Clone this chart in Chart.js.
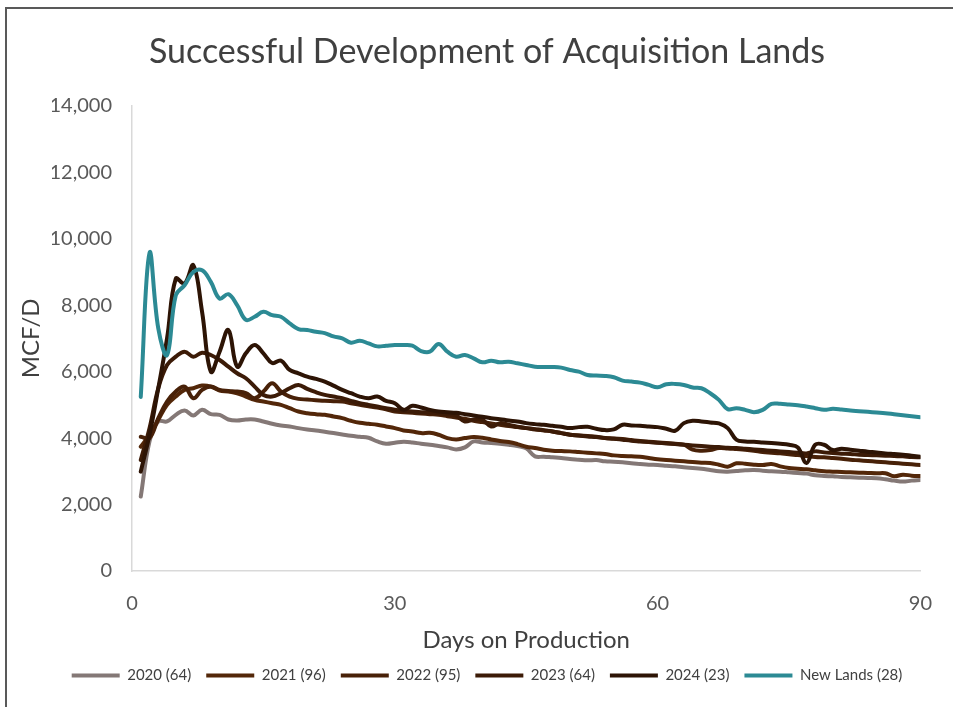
<!DOCTYPE html>
<html>
<head>
<meta charset="utf-8">
<script src="https://cdn.jsdelivr.net/npm/chart.js@4"></script>
<style>
  body { margin: 0; background: #fff; }
  #wrap { position: relative; width: 953px; height: 707px; overflow: hidden; }
  #frame { position: absolute; left: 5px; top: 7px; width: 960px; height: 720px;
           border-top: 2px solid #595959; border-left: 2px solid #595959; pointer-events: none; }
</style>
</head>
<body>
<div id="wrap">
  <canvas id="chart" width="953" height="707"></canvas>
  <div id="frame"></div>
</div>
<script>
// days on production (x categories)
const days = [1,2,3,4,5,6,7,8,9,10,11,12,13,14,15,16,17,18,19,20,21,22,23,24,25,26,27,28,29,30,
  31,32,33,34,35,36,37,38,39,40,41,42,43,44,45,46,47,48,49,50,51,52,53,54,55,56,57,58,59,60,
  61,62,63,64,65,66,67,68,69,70,71,72,73,74,75,76,77,78,79,80,81,82,83,84,85,86,87,88,89,90];

const xTicks = [0, 30, 60, 90];
const yTicks = [0, 2000, 4000, 6000, 8000, 10000, 12000, 14000];

// MCF/D
const y2020 = [2240,3900,4500,4500,4700,4830,4680,4850,4720,4700,4560,4530,4560,4560,4500,4430,4380,4350,4300,4260,
  4230,4190,4150,4110,4070,4040,4010,3900,3830,3860,3890,3870,3830,3800,3760,3720,3660,3720,3900,3870,
  3850,3830,3800,3760,3690,3450,3440,3420,3400,3370,3350,3330,3340,3300,3290,3270,3240,3220,3200,3190,
  3170,3150,3120,3100,3080,3040,3000,2990,3010,3030,3040,3020,3000,2990,2970,2950,2930,2880,2860,2850,
  2830,2820,2810,2800,2790,2760,2720,2690,2720,2740];

const y2021 = [3740,4100,4550,5000,5250,5450,5500,5580,5550,5430,5400,5350,5250,5150,5100,5050,5000,4900,4800,4750,
  4720,4700,4650,4600,4520,4460,4430,4400,4350,4300,4230,4200,4150,4160,4100,4000,3960,4000,4030,4010,
  3960,3910,3880,3820,3740,3700,3650,3620,3610,3600,3580,3560,3540,3520,3480,3460,3450,3440,3400,3360,
  3340,3320,3300,3280,3260,3250,3200,3140,3240,3230,3200,3190,3220,3150,3100,3080,3060,3030,3000,2990,
  2980,2970,2960,2950,2940,2940,2850,2900,2870,2860];

const y2022 = [4040,4000,4600,5100,5400,5550,5200,5450,5550,5450,5420,5400,5350,5200,5400,5650,5400,5250,5180,5160,
  5140,5120,5110,5100,5050,5000,4960,4920,4870,4800,4780,4760,4740,4720,4700,4660,4620,4580,4520,4480,
  4440,4400,4360,4330,4300,4260,4230,4200,4150,4100,4080,4060,4040,4000,3990,3970,3940,3910,3890,3870,
  3850,3830,3800,3650,3620,3640,3700,3690,3670,3650,3620,3580,3560,3540,3510,3490,3460,3430,3420,3400,
  3380,3350,3330,3310,3290,3270,3250,3230,3210,3190];

const y2023 = [3340,4300,5500,6200,6450,6600,6450,6570,6500,6350,6150,5950,5800,5550,5300,5250,5350,5500,5600,5480,
  5380,5300,5250,5200,5120,5050,5000,4950,4900,4850,4820,4800,4780,4770,4750,4720,4680,4500,4560,4550,
  4350,4450,4400,4340,4300,4270,4240,4200,4150,4100,4080,4050,4030,4000,3980,3950,3920,3900,3880,3860,
  3840,3820,3800,3780,3760,3740,3730,3710,3700,3680,3660,3640,3620,3600,3580,3560,3540,3600,3570,3550,
  3530,3520,3500,3490,3480,3470,3460,3450,3430,3420];

const y2024 = [2990,4100,5500,7000,8800,8650,9200,7800,6000,6600,7250,6150,6550,6800,6550,6260,6330,6050,5950,5850,
  5780,5700,5580,5450,5350,5250,5200,5250,5120,5050,4850,4970,4920,4850,4800,4780,4760,4720,4680,4640,
  4600,4570,4530,4500,4450,4420,4400,4370,4340,4300,4330,4340,4280,4240,4260,4400,4380,4370,4350,4330,
  4280,4220,4450,4520,4500,4470,4440,4300,3950,3900,3890,3870,3850,3830,3800,3720,3250,3800,3800,3640,
  3680,3650,3620,3590,3570,3540,3520,3500,3470,3440];

const yNewLands = [5240,9570,7300,6500,8300,8600,9000,9050,8700,8200,8330,8000,7560,7650,7800,7700,7650,7450,7280,7250,
  7200,7160,7060,7000,6870,6930,6850,6760,6780,6800,6800,6780,6620,6600,6830,6600,6450,6500,6400,6280,
  6330,6280,6300,6250,6200,6150,6140,6140,6120,6050,6000,5900,5880,5870,5830,5730,5700,5670,5600,5530,
  5620,5630,5600,5520,5500,5350,5150,4870,4900,4850,4780,4850,5030,5030,5010,4990,4950,4900,4850,4880,
  4860,4830,4810,4790,4770,4750,4720,4690,4660,4630];

const seriesNames = ['2020 (64)', '2021 (96)', '2022 (95)', '2023 (64)', '2024 (23)', 'New Lands (28)'];
const seriesColors = ['#847876', '#532709', '#482108', '#3c1b07', '#2d1405', '#2c8a94'];
const seriesValues = [y2020, y2021, y2022, y2023, y2024, yNewLands];

const FONT = 'Lato, "Open Sans", sans-serif';
const TEXT = '#595959';

const datasets = seriesValues.map((vals, i) => ({
  label: seriesNames[i],
  data: vals.map((v, j) => ({ x: days[j], y: v })),
  borderColor: seriesColors[i],
  backgroundColor: seriesColors[i],
  order: seriesValues.length - i   // later series drawn on top, like the original
}));

new Chart(document.getElementById('chart'), {
  type: 'line',
  data: { datasets: datasets },
  options: {
    responsive: false,
    animation: false,
    // wide left padding centres title + legend like the original; y title pulled back with negative padding
    layout: { padding: { left: 52, right: 31, top: 32, bottom: 14 } },
    elements: {
      point: { radius: 0 },
      line: { tension: 0.4, borderWidth: 4, borderCapStyle: 'round', borderJoinStyle: 'round' }
    },
    plugins: {
      tooltip: { enabled: false },
      title: {
        display: true,
        text: 'Successful Development of Acquisition Lands',
        color: '#404040',
        font: { family: FONT, size: 34, weight: 'normal' },
        padding: { top: 0, bottom: 33 }
      },
      legend: {
        position: 'bottom',
        labels: {
          boxWidth: 48,
          boxHeight: 4,
          padding: 15,
          color: '#404040',
          font: { family: FONT, size: 15 },
          sort: (a, b) => a.datasetIndex - b.datasetIndex,
          generateLabels: chart => Chart.defaults.plugins.legend.labels.generateLabels(chart)
            .map(l => Object.assign(l, { fillStyle: l.strokeStyle, lineWidth: 0 }))
        }
      }
    },
    scales: {
      x: {
        type: 'linear',
        min: 0, max: 90,
        afterBuildTicks: s => { s.ticks = xTicks.map(v => ({ value: v })); },
        afterFit: s => { s.height = 82; },
        ticks: { color: TEXT, font: { family: FONT, size: 20 }, padding: 21 },
        grid: { display: false, drawTicks: false },
        border: { color: '#d9d9d9', width: 1.5 },
        title: { display: true, text: 'Days on Production', color: '#404040',
                 font: { family: FONT, size: 24 }, padding: { top: 0, bottom: -2 } }
      },
      y: {
        min: 0, max: 14000,
        afterBuildTicks: s => { s.ticks = yTicks.map(v => ({ value: v })); },
        afterFit: s => { s.width = 80; },
        ticks: { color: TEXT, font: { family: FONT, size: 20 }, padding: 20,
                 callback: v => v.toLocaleString('en-US') },
        grid: { display: false, drawTicks: false },
        border: { color: '#d9d9d9', width: 1.5 },
        title: { display: true, text: 'MCF/D', color: '#404040',
                 font: { family: FONT, size: 24 }, padding: { top: -35, bottom: 0 } }
      }
    }
  }
});
</script>
</body>
</html>
